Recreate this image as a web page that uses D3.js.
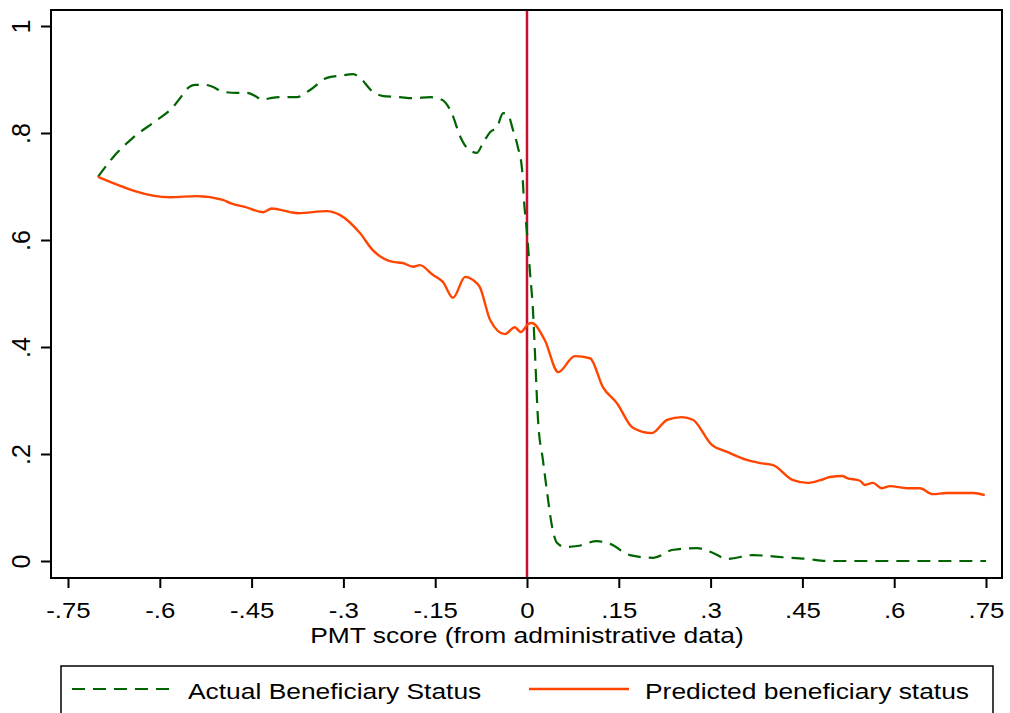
<!DOCTYPE html>
<html>
<head>
<meta charset="utf-8">
<script src="https://cdn.jsdelivr.net/npm/d3@7"></script>
<style>
  body { margin: 0; background: #fff; }
  text { font-family: "Liberation Sans", Arial, Helvetica, sans-serif; fill: #000; }
</style>
</head>
<body>
<div id="chart"></div>
<script>
// Data
var actualX = [-0.701,-0.676,-0.644,-0.605,-0.578,-0.567,-0.556,-0.542,-0.526,-0.513,-0.497,-0.474,-0.458,-0.441,-0.433,-0.420,-0.404,-0.376,-0.355,-0.327,-0.306,-0.284,-0.273,-0.252,-0.235,-0.208,-0.186,-0.158,-0.139,-0.123,-0.109,-0.098,-0.082,-0.072,-0.060,-0.049,-0.039,-0.031,-0.023,-0.015,-0.008,-0.005,0.000,0.005,0.010,0.013,0.018,0.026,0.033,0.041,0.049,0.062,0.082,0.114,0.136,0.168,0.206,0.239,0.278,0.304,0.327,0.369,0.418,0.458,0.490,0.55,0.65,0.75];
var actualY = [0.718,0.755,0.791,0.824,0.849,0.865,0.882,0.890,0.890,0.886,0.877,0.875,0.875,0.867,0.862,0.865,0.867,0.867,0.880,0.903,0.907,0.910,0.903,0.877,0.869,0.867,0.865,0.867,0.862,0.837,0.793,0.772,0.763,0.781,0.802,0.811,0.837,0.834,0.806,0.774,0.731,0.675,0.613,0.538,0.464,0.389,0.264,0.189,0.127,0.064,0.034,0.026,0.028,0.037,0.032,0.011,0.006,0.021,0.024,0.015,0.004,0.011,0.007,0.004,0.000,0,0,0];

var predX = [-0.701,-0.583,-0.539,-0.497,-0.485,-0.461,-0.431,-0.417,-0.387,-0.374,-0.327,-0.306,-0.273,-0.252,-0.219,-0.203,-0.186,-0.175,-0.154,-0.137,-0.121,-0.101,-0.088,-0.077,-0.060,-0.036,-0.020,-0.010,0.002,0.008,0.029,0.051,0.078,0.103,0.124,0.147,0.173,0.204,0.229,0.253,0.271,0.302,0.327,0.359,0.381,0.402,0.435,0.458,0.479,0.495,0.515,0.523,0.544,0.552,0.565,0.580,0.593,0.621,0.642,0.663,0.686,0.729,0.748];
var predY = [0.718,0.680,0.682,0.675,0.669,0.662,0.652,0.659,0.652,0.650,0.654,0.647,0.613,0.581,0.559,0.557,0.550,0.553,0.535,0.521,0.492,0.531,0.525,0.512,0.450,0.424,0.437,0.428,0.443,0.445,0.413,0.353,0.383,0.379,0.325,0.295,0.249,0.239,0.264,0.269,0.264,0.217,0.204,0.189,0.183,0.179,0.151,0.146,0.151,0.157,0.159,0.155,0.150,0.142,0.146,0.136,0.140,0.136,0.136,0.125,0.127,0.127,0.123];

var xTicks = [-0.75,-0.6,-0.45,-0.3,-0.15,0,0.15,0.3,0.45,0.6,0.75];
var xTickLabels = ["-.75","-.6","-.45","-.3","-.15","0",".15",".3",".45",".6",".75"];
var yTicks = [0,0.2,0.4,0.6,0.8,1];
var yTickLabels = ["0",".2",".4",".6",".8","1"];

var cutoff = 0;
var seriesNames = ["Actual Beneficiary Status", "Predicted beneficiary status"];

var svgWidth = 1010;
var svgHeight = 713;

// plot box
var box = { left: 51, top: 10, right: 1002, bottom: 578 };

var green = "#006400";
var orange = "#ff4500";
var red = "#c8102e";

var svg = d3.select("#chart")
  .append("svg")
  .attr("width", svgWidth)
  .attr("height", svgHeight);

svg.append("rect")
  .attr("width", svgWidth)
  .attr("height", svgHeight)
  .attr("fill", "#fff");

// scales
var xScale = d3.scaleLinear()
  .domain([-0.75, 0.75])
  .range([68, 986]);

var yScale = d3.scaleLinear()
  .domain([0, 1])
  .range([561, 26]);

// cutoff line
svg.append("line")
  .attr("x1", xScale(cutoff))
  .attr("x2", xScale(cutoff))
  .attr("y1", box.top)
  .attr("y2", box.bottom)
  .attr("stroke", red)
  .attr("stroke-width", 2.5);

var actual = actualX.map(function(d, i) { return { x: d, y: actualY[i] }; });
var pred = predX.map(function(d, i) { return { x: d, y: predY[i] }; });

var line = d3.line()
  .x(d => xScale(d.x))
  .y(d => yScale(d.y))
  .curve(d3.curveMonotoneX);

svg.append("path")
  .datum(actual)
  .attr("d", line)
  .attr("fill", "none")
  .attr("stroke", green)
  .attr("stroke-width", 2.2)
  .attr("stroke-dasharray", "13,8");

svg.append("path")
  .datum(pred)
  .attr("d", line)
  .attr("fill", "none")
  .attr("stroke", orange)
  .attr("stroke-width", 2.4);

// frame
svg.append("rect")
  .attr("x", box.left)
  .attr("y", box.top)
  .attr("width", box.right - box.left)
  .attr("height", box.bottom - box.top)
  .attr("fill", "none")
  .attr("stroke", "#000")
  .attr("stroke-width", 2);

// axes
var bottomAxis = d3.axisBottom(xScale)
  .tickValues(xTicks)
  .tickSize(10)
  .tickFormat((d, i) => xTickLabels[i]);

var xAxis = svg.append("g")
  .attr("transform", `translate(0, ${box.bottom})`)
  .call(bottomAxis);
xAxis.select(".domain").remove();
xAxis.selectAll("line").attr("stroke-width", 2);
xAxis.selectAll("text")
  .attr("y", 0)
  .attr("dy", 0)
  .attr("font-size", 21.5)
  .attr("transform", "translate(0,40) scale(1.2,1)");

var leftAxis = d3.axisLeft(yScale)
  .tickValues(yTicks)
  .tickSize(10)
  .tickFormat((d, i) => yTickLabels[i]);

var yAxis = svg.append("g")
  .attr("transform", `translate(${box.left}, 0)`)
  .call(leftAxis);
yAxis.select(".domain").remove();
yAxis.selectAll("line").attr("stroke-width", 2);
yAxis.selectAll("text")
  .attr("x", 0)
  .attr("dy", 0)
  .attr("text-anchor", "middle")
  .attr("font-size", 25)
  .attr("transform", "translate(-21,0) rotate(-90)");

// axis title
svg.append("text")
  .attr("text-anchor", "middle")
  .attr("font-size", 22)
  .attr("transform", "translate(527,643) scale(1.2,1)")
  .text("PMT score (from administrative data)");

// legend
svg.append("rect")
  .attr("x", 61)
  .attr("y", 666)
  .attr("width", 932)
  .attr("height", 70)
  .attr("fill", "none")
  .attr("stroke", "#000")
  .attr("stroke-width", 1.5);

var legendKeys = [
  { x: 72, tx: 188, color: green, dash: "13,8", w: 2.2 },
  { x: 529, tx: 645, color: orange, dash: null, w: 2.4 }
];

legendKeys.forEach(function(k, i) {
  svg.append("line")
    .attr("x1", k.x)
    .attr("x2", k.x + 100)
    .attr("y1", 689)
    .attr("y2", 689)
    .attr("stroke", k.color)
    .attr("stroke-width", k.w)
    .attr("stroke-dasharray", k.dash);
  svg.append("text")
    .attr("font-size", 22)
    .attr("transform", `translate(${k.tx},699) scale(1.2,1)`)
    .text(seriesNames[i]);
});
</script>
</body>
</html>
